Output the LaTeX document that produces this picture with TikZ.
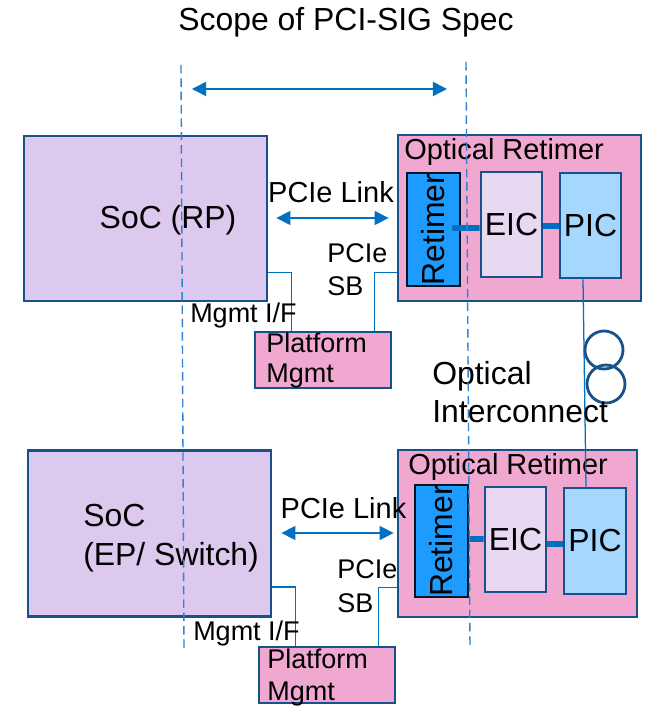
\documentclass[tikz,border=0pt]{standalone}
\usepackage{fontspec}
\setmainfont{Liberation Sans}
\definecolor{edgeblue}{RGB}{23, 82, 140}
\definecolor{wireblue}{RGB}{0, 112, 192}
\definecolor{cutblue}{RGB}{50, 130, 210}
\definecolor{socfill}{RGB}{221, 200, 238}
\definecolor{optfill}{RGB}{240, 168, 208}
\definecolor{retfill}{RGB}{30, 155, 255}
\definecolor{eicfill}{RGB}{232, 216, 242}
\definecolor{picfill}{RGB}{166, 216, 255}
\usetikzlibrary{arrows.meta, positioning, calc}
\newcommand{\pix}{0.025cm}

\begin{document}
\begin{tikzpicture}[x=0.025cm, y=0.025cm,
    box/.style={draw=edgeblue, line width=2pt, inner sep=0pt},
    txtL/.style={font=\fontsize{22.7}{27}\selectfont, inner sep=0pt},
    txtM/.style={font=\fontsize{20.6}{25}\selectfont, inner sep=0pt},
    txtS/.style={font=\fontsize{19.2}{23}\selectfont, inner sep=0pt},
    wire/.style={draw=wireblue, line width=0.9pt},
    bus/.style={draw=wireblue, line width=4pt},
    linkarrow/.style={wireblue, line width=1.1pt, {Triangle[length=10pt, width=10pt]}-{Triangle[length=10pt, width=10pt]}},
    cut/.style={cutblue, line width=1pt, dash pattern=on 6pt off 3.5pt}]
\useasboundingbox (0,0) rectangle (649,709);

% Title and scope arrow
\node[txtL, anchor=base] (title) at (346,678) {Scope of PCI-SIG Spec};
\coordinate (scopeL) at (192,620);
\coordinate (scopeR) at (447,620);
\draw[linkarrow] (scopeL) -- (scopeR);

% Upper link: SoC (RP) to optical retimer
\node[box, fill=socfill, minimum width=243*\pix, minimum height=165*\pix] (socA) at (145.5,490.5) {};
\node[txtL, anchor=base] (socAname) at (168,480) {SoC (RP)};
\node[box, fill=optfill, minimum width=243*\pix, minimum height=166*\pix] (optA) at (519.5,491) {};
\node[txtM, anchor=base west] (optAname) at (404,549) {Optical Retimer};
\node[box, draw=black!75!edgeblue, fill=retfill, minimum width=53*\pix, minimum height=113*\pix, txtL] (retA) at (433.5,479.5) {\rotatebox{90}{Retimer}};
\node[box, fill=eicfill, minimum width=61*\pix, minimum height=105*\pix, txtL] (eicA) at (511.5,484.5) {EIC};
\node[box, fill=picfill, minimum width=61*\pix, minimum height=105*\pix, txtL] (picA) at (590.5,483.5) {PIC};
\node[box, fill=optfill, minimum width=136*\pix, minimum height=56*\pix] (platA) at (323,349) {};
\node[txtS, anchor=base west] (platA1) at (266,356) {Platform};
\node[txtS, anchor=base west] (platA2) at (266,326) {Mgmt};

\draw[linkarrow] ($(socA.east)+(8,0.5)$) -- ($(optA.west)+(-8,0)$);
\node[txtM, anchor=base] (linkA) at (331,506) {PCIe Link};
\draw[bus] ($(retA.east)+(-9,1.5)$) -- ($(eicA.west)+(0,-3.5)$);
\draw[bus] ($(eicA.east)+(0,-1.5)$) -- ($(picA.west)+(0,-0.5)$);
\draw[wire] ($(socA.south east)+(0,30)$) -| ($(platA.north west)+(38,0)$);
\draw[wire] ($(platA.north east)+(-18,0)$) |- ($(optA.south west)+(0,30)$);
\node[txtS, anchor=base west] (sbA1) at (327,446) {PCIe};
\node[txtS, anchor=base west] (sbA2) at (327,413) {SB};
\node[txtS, anchor=base] (mgmtA) at (243.5,386) {Mgmt I/F};

% Lower link: SoC (EP/ Switch) to optical retimer
\node[box, fill=socfill, minimum width=243*\pix, minimum height=166*\pix] (socB) at (149.5,175.5) {};
\node[txtL, anchor=base west] (socB1) at (83,182) {SoC};
\node[txtL, anchor=base west] (socB2) at (83,143) {(EP/ Switch)};
\node[box, fill=optfill, minimum width=239*\pix, minimum height=167*\pix] (optB) at (517.5,175.5) {};
\node[txtM, anchor=base west] (optBname) at (408,234) {Optical Retimer};
\node[box, draw=black!75!edgeblue, fill=retfill, minimum width=53*\pix, minimum height=112*\pix, txtL] (retB) at (441.5,168) {\rotatebox{90}{Retimer}};
\node[box, fill=eicfill, minimum width=61*\pix, minimum height=105*\pix, txtL] (eicB) at (515.5,169.5) {EIC};
\node[box, fill=picfill, minimum width=62*\pix, minimum height=106*\pix, txtL] (picB) at (595,168) {PIC};
\node[box, fill=optfill, minimum width=136*\pix, minimum height=56*\pix] (platB) at (327,34) {};
\node[txtS, anchor=base west] (platB1) at (267,40) {Platform};
\node[txtS, anchor=base west] (platB2) at (267,9) {Mgmt};

\draw[linkarrow] ($(socB.east)+(9,0.5)$) -- ($(optB.west)+(-3,0.5)$);
\node[txtM, anchor=base] (linkB) at (343.5,190) {PCIe Link};
\draw[bus] ($(retB.east)+(0,2)$) -- ($(eicB.west)+(0,0.5)$);
\draw[bus] ($(eicB.east)+(0,-4.5)$) -- ($(picB.west)+(0,-3)$);
\draw[wire] ($(socB.south east)+(0,31)$) -| ($(platB.north west)+(38,0)$);
\draw[wire] ($(platB.north east)+(-18,0)$) |- ($(optB.south west)+(0,31)$);
\node[txtS, anchor=base west] (sbB1) at (337,130) {PCIe};
\node[txtS, anchor=base west] (sbB2) at (337,96) {SB};
\node[txtS, anchor=base] (mgmtB) at (246.5,68) {Mgmt I/F};

% Optical fiber with coil
\draw[wire] ($(picA.south)+(-7.5,0)$) -- ($(picB.north)+(-9,0)$);
\draw[edgeblue, line width=2pt] (604,359) circle (19);
\draw[edgeblue, line width=2pt] (606,325) circle (19);
\node[txtL, anchor=base west] (fiber1) at (432,324) {Optical};
\node[txtL, anchor=base west] (fiber2) at (432,286) {Interconnect};

% Scope boundaries
\coordinate (cutAtop) at (181,644);
\coordinate (cutAbot) at (184,59);
\coordinate (cutBtop) at (466,647);
\coordinate (cutBbot) at (470,61);
\draw[cut] (cutAtop) -- (cutAbot);
\draw[cut] (cutBtop) -- (cutBbot);
\end{tikzpicture}
\end{document}
